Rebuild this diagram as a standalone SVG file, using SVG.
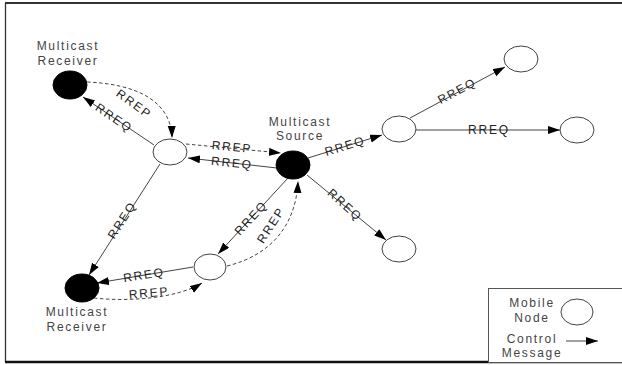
<svg xmlns="http://www.w3.org/2000/svg" width="622" height="365" viewBox="0 0 622 365">
  <defs>
    <marker id="arrow" markerUnits="userSpaceOnUse" markerWidth="13" markerHeight="9" refX="12" refY="4" orient="auto">
      <path d="M0,0 L12,4 L0,8 z" fill="#000"/>
    </marker>
    <style>
      .frame { fill: none; stroke: #333; }
      .node { fill: #fff; stroke: #444; stroke-width: 1; }
      .member { fill: #000; stroke: #000; stroke-width: 1; }
      .msg { fill: none; stroke: #444; stroke-width: 1; marker-end: url(#arrow); }
      .reply { fill: none; stroke: #444; stroke-width: 1; stroke-dasharray: 3.5 2.5; marker-end: url(#arrow); }
      .lbl { font-family: "Liberation Sans", Arial, sans-serif; font-size: 12px; letter-spacing: 1.8px; fill: #222; text-anchor: middle; dominant-baseline: central; }
      .name { font-family: "Liberation Sans", Arial, sans-serif; font-size: 12px; letter-spacing: 1.7px; fill: #444; text-anchor: middle; }
    </style>
  </defs>

  <rect width="622" height="365" fill="#fff"/>
  <!-- outer frame -->
  <line class="frame" x1="5" y1="3" x2="622" y2="3" stroke-width="2"/>
  <line class="frame" x1="5.5" y1="3" x2="5.5" y2="362" stroke-width="1.3"/>
  <line x1="5" y1="362" x2="622" y2="362" stroke="#111" stroke-width="2.5"/>

  <!-- connectors -->
  <g id="connectors">
    <path class="msg" d="M154,145 L83,97"/>
    <path class="reply" d="M87,82 C135,84 171,100 172,138"/>
    <path class="reply" d="M186,144 L281,153"/>
    <path class="msg" d="M277,168 L188,158"/>
    <path class="msg" d="M308,158 L382,135"/>
    <path class="msg" d="M410,118 L505,67"/>
    <path class="msg" d="M416,130 L560,130"/>
    <path class="msg" d="M307,175 L386,240"/>
    <path class="msg" d="M160,164 L89,275"/>
    <path class="msg" d="M288,178 L218,254"/>
    <path class="reply" d="M227,266 C268,256 296,228 298,181"/>
    <path class="msg" d="M193,267 L97,283"/>
    <path class="reply" d="M94,298 C130,302 178,298 202,283"/>

    <text class="lbl" transform="rotate(34 114 118)" x="114" y="118">RREQ</text>
    <text class="lbl" transform="rotate(36 134 104)" x="134" y="104">RREP</text>
    <text class="lbl" transform="rotate(5.4 232 147)" x="232" y="147">RREP</text>
    <text class="lbl" transform="rotate(5.8 232 163)" x="232" y="163">RREQ</text>
    <text class="lbl" transform="rotate(-17 345 146)" x="345" y="146">RREQ</text>
    <text class="lbl" transform="rotate(-28 457 91)" x="457" y="91">RREQ</text>
    <text class="lbl" x="489" y="130">RREQ</text>
    <text class="lbl" transform="rotate(42 345 205)" x="345" y="205">RREQ</text>
    <text class="lbl" transform="rotate(-57 122 220)" x="122" y="220">RREQ</text>
    <text class="lbl" transform="rotate(-47 251 218)" x="251" y="218">RREQ</text>
    <text class="lbl" transform="rotate(-57 271 225)" x="271" y="225">RREP</text>
    <text class="lbl" transform="rotate(-9 144 275)" x="144" y="275">RREQ</text>
    <text class="lbl" transform="rotate(-5 149 293)" x="149" y="293">RREP</text>
  </g>

  <!-- nodes -->
  <g id="receiver-top">
    <ellipse class="member" cx="70" cy="85" rx="17" ry="14"/>
    <text class="name" x="68" y="50">Multicast</text>
    <text class="name" x="68" y="65">Receiver</text>
  </g>
  <g id="node-a">
    <ellipse class="node" cx="170" cy="152" rx="17" ry="13"/>
  </g>
  <g id="source">
    <ellipse class="member" cx="293" cy="165" rx="17" ry="14"/>
    <text class="name" x="300" y="126">Multicast</text>
    <text class="name" x="300" y="140">Source</text>
  </g>
  <g id="node-b">
    <ellipse class="node" cx="399" cy="129" rx="17" ry="13"/>
  </g>
  <g id="node-c">
    <ellipse class="node" cx="521" cy="59" rx="17" ry="13"/>
  </g>
  <g id="node-d">
    <ellipse class="node" cx="577" cy="130" rx="17" ry="13"/>
  </g>
  <g id="node-e">
    <ellipse class="node" cx="399" cy="249" rx="17" ry="13"/>
  </g>
  <g id="node-f">
    <ellipse class="node" cx="210" cy="267" rx="16" ry="13"/>
  </g>
  <g id="receiver-bottom">
    <ellipse class="member" cx="82" cy="288" rx="17" ry="14"/>
    <text class="name" x="77" y="316">Multicast</text>
    <text class="name" x="77" y="331">Receiver</text>
  </g>

  <!-- legend -->
  <g id="legend">
    <rect x="488.5" y="288.5" width="140" height="74" fill="#fff" stroke="#555" stroke-width="1"/>
    <text class="name" x="532" y="307">Mobile</text>
    <text class="name" x="532" y="322">Node</text>
    <ellipse class="node" cx="577" cy="312" rx="16" ry="13"/>
    <text class="name" x="532" y="343">Control</text>
    <text class="name" x="532" y="357">Message</text>
    <path class="msg" d="M566,341 L598,341"/>
  </g>
</svg>
